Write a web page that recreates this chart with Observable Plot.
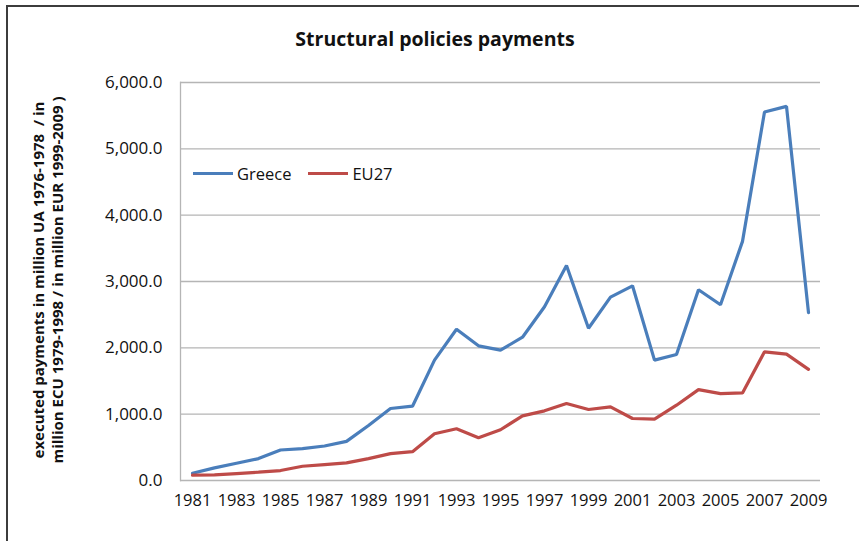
<!DOCTYPE html>
<html><head><meta charset="utf-8">
<script src="https://cdn.jsdelivr.net/npm/d3@7"></script>
<script src="https://cdn.jsdelivr.net/npm/@observablehq/plot@0.6"></script>
<style>
body{margin:0;background:#fff;}
#wrap{position:relative;width:859px;height:541px;overflow:hidden;font-family:"Open Sans",sans-serif;color:#111;}
#border{position:absolute;left:6px;top:5px;width:870px;height:560px;border-left:2px solid #3c3c3c;border-top:2px solid #3c3c3c;box-sizing:border-box;}
#title{position:absolute;left:0;width:870px;top:26px;text-align:center;font-weight:bold;font-size:19.5px;line-height:26px;}
#ytitle{position:absolute;left:-151px;top:260px;width:400px;height:40px;transform:rotate(-90deg);text-align:center;font-weight:bold;font-size:15px;line-height:19px;white-space:nowrap;}
#chart{position:absolute;left:0;top:0;}
#legend{position:absolute;left:193px;top:162px;font-size:16.5px;display:flex;align-items:center;}
#legend .item{display:flex;align-items:center;margin-right:17px;}
#legend .sw{display:inline-block;width:40px;height:3.5px;margin-right:4px;}
</style>
</head><body>
<div id="wrap">
  <div id="chart"></div>
  <div id="border"></div>
  <div id="title"></div>
  <div id="ytitle"></div>
  <div id="legend"></div>
</div>
<script>
const titleText = "Structural policies payments";
const yTitleLines = ["executed payments in million UA 1976-1978  / in", "million ECU 1979-1998 / in million EUR 1999-2009 )"];
const years = [1981,1982,1983,1984,1985,1986,1987,1988,1989,1990,1991,1992,1993,1994,1995,1996,1997,1998,1999,2000,2001,2002,2003,2004,2005,2006,2007,2008,2009];
const greece = [110,190,260,330,460,480,520,590,830,1085,1120,1815,2280,2030,1965,2160,2620,3240,2295,2765,2935,1815,1900,2875,2650,3605,5555,5640,2530];
const eu27 = [80,85,105,125,150,215,240,265,330,405,435,705,780,645,765,975,1050,1160,1070,1110,935,925,1135,1370,1310,1320,1940,1905,1675];
const xTickLabels = [1981,1983,1985,1987,1989,1991,1993,1995,1997,1999,2001,2003,2005,2007,2009];
const yTicks = [0,1000,2000,3000,4000,5000,6000];
const seriesNames = ["Greece","EU27"];
const seriesColors = ["#4a7ebb","#be4b48"];

const data = [];
years.forEach((y,i)=>{
  data.push({year:y, value:greece[i], series:"Greece"});
  data.push({year:y, value:eu27[i], series:"EU27"});
});

document.getElementById("title").textContent = titleText;
document.getElementById("ytitle").innerHTML = yTitleLines.map(s=>"<div>"+s.replace(/ /g,"&nbsp;")+"</div>").join("");

const legend = document.getElementById("legend");
seriesNames.forEach((n,i)=>{
  const it = document.createElement("div"); it.className="item";
  const sw = document.createElement("span"); sw.className="sw"; sw.style.background=seriesColors[i];
  const t = document.createElement("span"); t.textContent=n;
  it.appendChild(sw); it.appendChild(t); legend.appendChild(it);
});

const plot = Plot.plot({
  width: 859, height: 541,
  marginLeft: 180, marginRight: 39, marginTop: 82, marginBottom: 61,
  style: {fontFamily: "'Open Sans', sans-serif", background: "transparent", color: "#111"},
  x: {type: "point", domain: years, padding: 0.5},
  y: {domain: [0, 6000]},
  color: {domain: seriesNames, range: seriesColors},
  marks: [
    Plot.gridY(yTicks, {stroke: "#b5b5b5", strokeOpacity: 1, strokeWidth: 1.3}),
    Plot.frame({anchor: "left", stroke: "#b5b5b5", strokeWidth: 1.3}),
    Plot.axisY(yTicks, {tickSize: 0, tickPadding: 18, tickFormat: d3.format(",.1f"), fontSize: 17, label: null}),
    Plot.axisX(xTickLabels, {tickSize: 0, tickPadding: 14, tickFormat: d => String(d), fontSize: 16.5, letterSpacing: "-0.5px", label: null}),
    Plot.line(data, {x: "year", y: "value", z: "series", stroke: "series", strokeWidth: 3.2, strokeLinejoin: "miter"})
  ]
});
document.getElementById("chart").appendChild(plot);
</script>
</body></html>
